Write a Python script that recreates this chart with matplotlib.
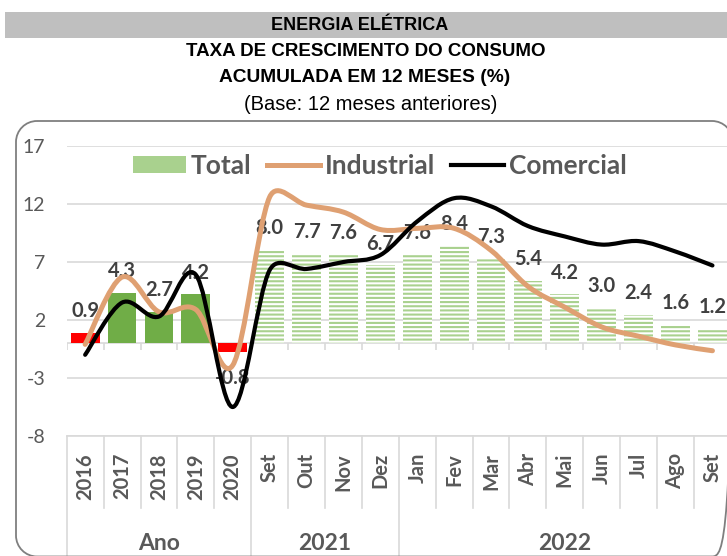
import numpy as np
import matplotlib
matplotlib.use('Agg')
import matplotlib.pyplot as plt
from matplotlib.path import Path
from matplotlib.patches import PathPatch, Rectangle, Patch
from matplotlib.lines import Line2D
import matplotlib.transforms as mtransforms
from matplotlib import font_manager

# ---------------- data ----------------
categories = ['2016', '2017', '2018', '2019', '2020',
              'Set', 'Out', 'Nov', 'Dez',
              'Jan', 'Fev', 'Mar', 'Abr', 'Mai', 'Jun', 'Jul', 'Ago', 'Set']
group_names = ['Ano', '2021', '2022']
group_sizes = [5, 4, 9]
total = [0.9, 4.3, 2.7, 4.2, -0.8, 8.0, 7.7, 7.6, 6.7, 7.6, 8.4, 7.3, 5.4, 4.2, 3.0, 2.4, 1.6, 1.2]
industrial = [-0.1, 5.7, 2.7, 2.9, -1.9, 12.6, 11.9, 11.3, 9.8, 9.9, 9.9, 8.0, 4.9, 3.1, 1.4, 0.6, -0.15, -0.65]
comercial = [-1.0, 3.5, 2.3, 5.9, -5.5, 6.3, 6.4, 7.0, 7.6, 10.5, 12.5, 11.8, 10.1, 9.2, 8.5, 8.8, 7.9, 6.7]
bar_kind = ['red', 'solid', 'solid', 'solid', 'red'] + ['hatch'] * 13
yticks = [-8, -3, 2, 7, 12, 17]

# ---------------- fonts ----------------
def has_font(name):
    try:
        font_manager.findfont(font_manager.FontProperties(family=name), fallback_to_default=False)
        return True
    except Exception:
        return False

TITLE_FONT = 'Liberation Sans Narrow' if has_font('Liberation Sans Narrow') else 'Liberation Sans'
CHART_FONT = 'Lato'
plt.rcParams['font.family'] = [CHART_FONT, 'DejaVu Sans']
plt.rcParams['hatch.linewidth'] = 1.5

GRAY_TXT = '#595959'
LABEL_TXT = '#404040'
GRID = '#D9D9D9'
ORANGE = '#DFA072'
GREEN = '#70AD47'
LIGHT_GREEN = '#A9D18E'

W, H = 727, 556
fig = plt.figure(figsize=(W / 100, H / 100), dpi=100)
fig.patch.set_facecolor('white')
# pixel (origin top-left) -> figure transform
pix = mtransforms.Affine2D().scale(1.0 / W, -1.0 / H).translate(0, 1) + fig.transFigure

# header band
fig.patches.append(Rectangle((5, 12), W - 5, 26, transform=pix,
                             facecolor='#BFBFBF', edgecolor='none', zorder=0))
title_size = 13.5
fig.text(360, 25, 'ENERGIA ELÉTRICA', transform=pix, ha='center', va='center',
         fontsize=13, fontweight='bold', family=TITLE_FONT, color='black')
fig.text(366, 51, 'TAXA DE CRESCIMENTO DO CONSUMO', transform=pix, ha='center', va='center',
         fontsize=title_size, fontweight='bold', family=TITLE_FONT, color='black')
fig.text(365, 77, 'ACUMULADA EM 12 MESES (%)', transform=pix, ha='center', va='center',
         fontsize=13.8, fontweight='bold', family=TITLE_FONT, color='black')
fig.text(371, 104, '(Base: 12 meses anteriores)', transform=pix, ha='center', va='center',
         fontsize=14.5, family=TITLE_FONT, color='black')

# chart border (rounded), drawn as a path in pixel coordinates
bl, br, bt, bb, rad = 16.0, 733.0, 121.0, 556.5, 21.0
k = 0.5523 * rad
border_verts = [
    (bl + rad, bt), (br - rad, bt),
    (br - rad + k, bt), (br, bt + rad - k), (br, bt + rad),
    (br, bb - rad),
    (br, bb - rad + k), (br - rad + k, bb), (br - rad, bb),
    (bl + rad, bb),
    (bl + rad - k, bb), (bl, bb - rad + k), (bl, bb - rad),
    (bl, bt + rad),
    (bl, bt + rad - k), (bl + rad - k, bt), (bl + rad, bt),
]
border_codes = [Path.MOVETO, Path.LINETO,
                Path.CURVE4, Path.CURVE4, Path.CURVE4,
                Path.LINETO,
                Path.CURVE4, Path.CURVE4, Path.CURVE4,
                Path.LINETO,
                Path.CURVE4, Path.CURVE4, Path.CURVE4,
                Path.LINETO,
                Path.CURVE4, Path.CURVE4, Path.CURVE4]
fig.patches.append(PathPatch(Path(border_verts, border_codes), transform=pix,
                             facecolor='none', edgecolor='#7F7F7F', linewidth=1.3, zorder=1))

# axes
x0, x1 = 66.7, W
ytop, ybot = 146, 436
ax = fig.add_axes([x0 / W, 1 - ybot / H, (x1 - x0) / W, (ybot - ytop) / H])
ax.set_facecolor('none')
catw = 36.9
ax.set_xlim(-0.5, -0.5 + (x1 - x0) / catw)
ax.set_ylim(-8, 17)
for s in ax.spines.values():
    s.set_visible(False)
ax.set_yticks(yticks)
ax.set_yticklabels([str(v) for v in yticks])
ax.tick_params(axis='y', length=0, pad=15.5, labelsize=14, labelcolor=GRAY_TXT)
ax.set_xticks([])
ax.yaxis.grid(True, color=GRID, linewidth=1.2, zorder=0)
ax.set_axisbelow(True)

xs = np.arange(len(categories))

# zero line with tick marks
ax.axhline(0, color=GRID, linewidth=1.2, zorder=1)
ax.vlines(np.arange(len(categories) + 1) - 0.5, -0.6, 0, color=GRID, linewidth=1.2, zorder=1)

# bars
for i, (v, kind) in enumerate(zip(total, bar_kind)):
    if kind == 'red':
        ax.bar(i, v, width=0.78, color='#FF0000', zorder=2)
    elif kind == 'solid':
        ax.bar(i, v, width=0.78, color=GREEN, zorder=2)
    else:
        ax.bar(i, v, width=0.78, facecolor='white', edgecolor=LIGHT_GREEN,
               linewidth=0, hatch='----', zorder=2)

# data labels
for i, v in enumerate(total):
    off = 15.8 if v >= 0 else -18.5
    ax.annotate(f'{v:.1f}', (i, v), xytext=(0, off), textcoords='offset points',
                ha='center', va='center', fontsize=14.5, fontweight='bold',
                color=LABEL_TXT, zorder=2.5)

# smoothed lines (spreadsheet-style bezier smoothing with capped control arms)
PX_X, PX_Y = catw, (ybot - ytop) / 25.0

def smooth_path(xv, yv):
    pts = np.column_stack([xv, yv]).astype(float)
    n = len(pts)
    def dist(a, b):
        return np.hypot((a[0] - b[0]) * PX_X, (a[1] - b[1]) * PX_Y)
    verts = [pts[0]]
    codes = [Path.MOVETO]
    for i in range(n - 1):
        p0 = pts[i - 1] if i > 0 else pts[i]
        p1 = pts[i]
        p2 = pts[i + 1]
        p3 = pts[i + 2] if i + 2 < n else pts[i + 1]
        d12 = dist(p1, p2)
        d02 = dist(p0, p2)
        d13 = dist(p1, p3)
        f0 = min(1 / 6, d12 / (2 * d02)) if d02 > 0 else 0
        f1 = min(1 / 6, d12 / (2 * d13)) if d13 > 0 else 0
        c1 = p1 + (p2 - p0) * f0
        c2 = p2 - (p3 - p1) * f1
        verts += [c1, c2, p2]
        codes += [Path.CURVE4] * 3
    return Path(verts, codes)

ax.add_patch(PathPatch(smooth_path(xs, industrial), facecolor='none', edgecolor=ORANGE,
                       linewidth=3.6, capstyle='round', joinstyle='round', zorder=3))
ax.add_patch(PathPatch(smooth_path(xs, comercial), facecolor='none', edgecolor='black',
                       linewidth=3.0, capstyle='round', joinstyle='round', zorder=3.1))

# legend
handles = [Patch(facecolor=LIGHT_GREEN, edgecolor='none'),
           Line2D([], [], color=ORANGE, linewidth=3.6),
           Line2D([], [], color='black', linewidth=3.0)]
leg = ax.legend(handles, ['Total', 'Industrial', 'Comercial'], ncol=3,
                loc='center', bbox_to_anchor=(0.4745, 0.931), frameon=False,
                prop={'family': CHART_FONT, 'weight': 'bold', 'size': 19},
                labelcolor=GRAY_TXT, handlelength=2.0, handletextpad=0.2,
                columnspacing=0.6, borderaxespad=0, borderpad=0, handleheight=0.6)
leg.set_zorder(4)

# category axis (multi-level)
trans = mtransforms.blended_transform_factory(ax.transData, ax.transAxes)
axh = ybot - ytop
def fy(px):
    return (ybot - px) / axh

ax.plot([-0.5, 17.5], [0, 0], transform=trans, color=GRID, linewidth=1.2, clip_on=False, zorder=1)
for i, lab in enumerate(categories):
    ax.text(i, fy(453), lab, transform=trans, rotation=90, ha='center', va='top',
            fontsize=14.5, fontweight='bold', color=GRAY_TXT, clip_on=False)

starts = np.cumsum([0] + group_sizes[:-1])
group_bounds = set(int(s) for s in starts)
for b in range(1, len(categories)):
    if b not in group_bounds:
        ax.plot([b - 0.5, b - 0.5], [0, fy(508)], transform=trans, color=GRID,
                linewidth=1.2, clip_on=False)
for s in group_bounds:
    ax.plot([s - 0.5, s - 0.5], [0, fy(600)], transform=trans, color=GRID,
            linewidth=1.2, clip_on=False)
for name, s, n in zip(group_names, starts, group_sizes):
    ax.text(s - 0.5 + n / 2, fy(543), name, transform=trans, ha='center', va='center',
            fontsize=16.5, fontweight='bold', color=GRAY_TXT, clip_on=False)

fig.savefig('out.png', dpi=100)
